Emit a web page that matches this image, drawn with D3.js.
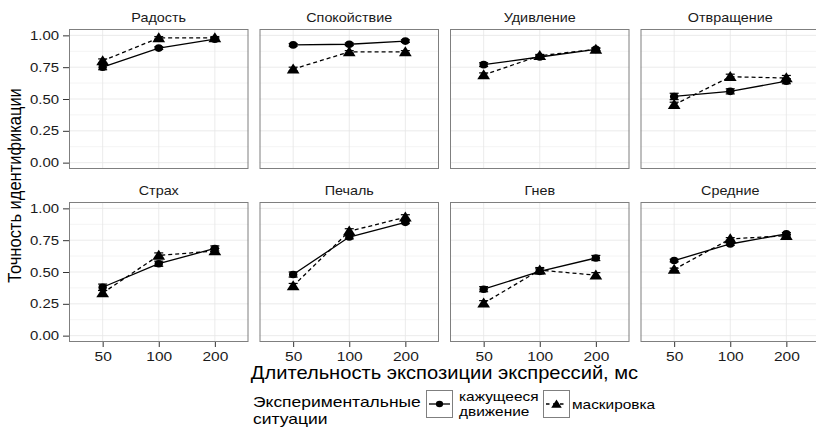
<!DOCTYPE html>
<html>
<head>
<meta charset="utf-8">
<script src="https://cdn.jsdelivr.net/npm/d3@7"></script>
<style>
  body { margin: 0; background: #fff; }
  svg { display: block; font-family: "Liberation Sans", Arial, sans-serif; }
</style>
</head>
<body>
<div id="chart"></div>
<script>
const emotions = ['Радость', 'Спокойствие', 'Удивление', 'Отвращение', 'Страх', 'Печаль', 'Гнев', 'Средние'];
const durations = [50, 100, 200];
const yTicks = [0, 0.25, 0.5, 0.75, 1];

// кажущееся движение (сплошная линия, круги)
const motion = [
  [0.75, 0.90, 0.97],
  [0.925, 0.93, 0.955],
  [0.77, 0.83, 0.89],
  [0.52, 0.56, 0.64],
  [0.38, 0.565, 0.685],
  [0.48, 0.775, 0.89],
  [0.365, 0.505, 0.61],
  [0.59, 0.72, 0.80]
];
const motionErr = [
  [0.02, 0.01, 0.01],
  [0.01, 0.01, 0.01],
  [0.015, 0.01, 0.01],
  [0.025, 0.02, 0.02],
  [0.025, 0.02, 0.02],
  [0.02, 0.015, 0.01],
  [0.02, 0.02, 0.02],
  [0.01, 0.01, 0.01]
];
// маскировка (пунктир, треугольники)
const masking = [
  [0.80, 0.98, 0.98],
  [0.735, 0.87, 0.87],
  [0.69, 0.84, 0.89],
  [0.455, 0.675, 0.665],
  [0.335, 0.63, 0.665],
  [0.39, 0.82, 0.93],
  [0.255, 0.515, 0.475],
  [0.52, 0.76, 0.785]
];
const maskingErr = [
  [0.015, 0.01, 0.01],
  [0.015, 0.01, 0.01],
  [0.015, 0.01, 0.01],
  [0.02, 0.02, 0.02],
  [0.02, 0.02, 0.02],
  [0.02, 0.02, 0.02],
  [0.02, 0.02, 0.02],
  [0.01, 0.01, 0.01]
];

const width = 816, height = 427;
const panelW = 179.5, panelH = 140;
const left0 = 69, stepX = 190.5;
const rowTops = [29, 202];
const sx = 1.15; // картинка слегка растянута по горизонтали

const svg = d3.select('#chart').append('svg')
  .attr('width', width)
  .attr('height', height);

// текст с горизонтальным растяжением
function label(parent, tx, ty, str, size, anchor) {
  return parent.append('text')
    .attr('transform', `translate(${tx},${ty}) scale(${sx},1)`)
    .attr('text-anchor', anchor || 'start')
    .style('font-size', size + 'px')
    .style('fill', '#000')
    .text(str);
}

const x = d3.scalePoint().domain(durations).range([0, panelW]).padding(0.6);
const y = d3.scaleLinear().domain([-0.05, 1.05]).range([panelH, 0]);
const minorTicks = [0.125, 0.375, 0.625, 0.875];

const tri = d3.symbol().type(d3.symbolTriangle).size(58);

emotions.forEach((name, i) => {
  const col = i % 4, row = Math.floor(i / 4);
  const g = svg.append('g')
    .attr('transform', `translate(${left0 + col * stepX},${rowTops[row]})`);

  // grid
  g.selectAll('.minor').data(minorTicks).enter().append('line')
    .attr('x1', 0).attr('x2', panelW)
    .attr('y1', d => y(d)).attr('y2', d => y(d))
    .attr('stroke', '#f4f4f4').attr('stroke-width', 1);
  g.selectAll('.major').data(yTicks).enter().append('line')
    .attr('x1', 0).attr('x2', panelW)
    .attr('y1', d => y(d)).attr('y2', d => y(d))
    .attr('stroke', '#e6e6e6').attr('stroke-width', 0.8);
  g.selectAll('.vmajor').data(durations).enter().append('line')
    .attr('x1', d => x(d)).attr('x2', d => x(d))
    .attr('y1', 0).attr('y2', panelH)
    .attr('stroke', '#e6e6e6').attr('stroke-width', 0.8);

  const ptsM = durations.map((d, j) => ({ d, v: motion[i][j], e: motionErr[i][j] }));
  const ptsK = durations.map((d, j) => ({ d, v: masking[i][j], e: maskingErr[i][j] }));

  const line = d3.line().x(p => x(p.d)).y(p => y(p.v));

  [ptsK, ptsM].forEach(pts => {
    const eb = g.selectAll(null).data(pts).enter().append('g');
    eb.append('line')
      .attr('x1', p => x(p.d)).attr('x2', p => x(p.d))
      .attr('y1', p => y(p.v - p.e)).attr('y2', p => y(p.v + p.e))
      .attr('stroke', '#000').attr('stroke-width', 1.2);
    [-1, 1].forEach(s => {
      eb.append('line')
        .attr('x1', p => x(p.d) - 4.5).attr('x2', p => x(p.d) + 4.5)
        .attr('y1', p => y(p.v + s * p.e)).attr('y2', p => y(p.v + s * p.e))
        .attr('stroke', '#000').attr('stroke-width', 1.2);
    });
  });

  g.append('path').datum(ptsK).attr('d', line)
    .attr('fill', 'none').attr('stroke', '#000').attr('stroke-width', 1.3)
    .attr('stroke-dasharray', '4,3');
  g.append('path').datum(ptsM).attr('d', line)
    .attr('fill', 'none').attr('stroke', '#000').attr('stroke-width', 1.3);

  g.selectAll('.tri').data(ptsK).enter().append('path')
    .attr('d', tri)
    .attr('transform', p => `translate(${x(p.d)},${y(p.v) + 1}) scale(1.1,1)`)
    .attr('fill', '#000');
  g.selectAll('.dot').data(ptsM).enter().append('ellipse')
    .attr('cx', p => x(p.d)).attr('cy', p => y(p.v))
    .attr('rx', 4.2).attr('ry', 3.8).attr('fill', '#000');

  g.append('rect')
    .attr('x', 0.5).attr('y', 0.5)
    .attr('width', panelW - 1).attr('height', panelH - 1)
    .attr('fill', 'none').attr('stroke', '#7f7f7f').attr('stroke-width', 1);

  label(g, panelW / 2, -7, name, 12.5, 'middle').style('fill', '#1a1a1a');

  if (col === 0) {
    const ya = g.append('g').call(d3.axisLeft(y).tickValues(yTicks).tickFormat(d3.format('.2f')).tickSize(6).tickPadding(4));
    ya.select('.domain').remove();
    ya.selectAll('line').attr('stroke', '#333');
    ya.selectAll('text')
      .attr('x', 0)
      .attr('transform', `translate(-10,0) scale(${sx},1)`)
      .style('font-size', '13px').style('fill', '#1a1a1a')
      .style('font-family', '"Liberation Sans", Arial, sans-serif');
  }
  if (row === 1) {
    const xa = g.append('g').attr('transform', `translate(0,${panelH})`)
      .call(d3.axisBottom(x).tickSize(5).tickPadding(4));
    xa.select('.domain').remove();
    xa.selectAll('line').attr('stroke', '#333');
    xa.selectAll('text')
      .attr('transform', `scale(${sx},1)`)
      .style('font-size', '13.5px').style('fill', '#1a1a1a')
      .style('font-family', '"Liberation Sans", Arial, sans-serif');
  }
});

// axis titles
svg.append('text')
  .attr('transform', `translate(21,${(rowTops[0] + rowTops[1] + panelH) / 2}) rotate(-90) scale(1,${sx})`)
  .attr('text-anchor', 'middle')
  .style('font-size', '16.5px').style('fill', '#000')
  .text('Точность идентификации');

label(svg, left0 + (3 * stepX + panelW) / 2, 379, 'Длительность экспозиции экспрессий, мс', 17.5, 'middle');

// legend
const lg = svg.append('g');
label(lg, 253, 407, 'Экспериментальные', 15.2);
label(lg, 253, 424, 'ситуации', 15.2);

const keyW = 26, keyH = 27;
const keyY = 390;
const key1 = 426, key2 = 543;

function key(xPos, dashed) {
  const k = lg.append('g').attr('transform', `translate(${xPos},${keyY})`);
  k.append('rect').attr('x', 0.5).attr('y', 0.5).attr('width', keyW).attr('height', keyH)
    .attr('fill', '#fff').attr('stroke', '#7f7f7f');
  k.append('line').attr('x1', 3).attr('x2', keyW - 2).attr('y1', keyH / 2 + 0.5).attr('y2', keyH / 2 + 0.5)
    .attr('stroke', '#000').attr('stroke-width', 1.3)
    .attr('stroke-dasharray', dashed ? '3.5,3.5' : null);
  if (dashed) {
    k.append('path').attr('d', d3.symbol().type(d3.symbolTriangle).size(40))
      .attr('transform', `translate(${keyW / 2 + 0.5},${keyH / 2 + 1.5}) scale(1.1,1)`).attr('fill', '#000');
  } else {
    k.append('ellipse').attr('cx', keyW / 2 + 0.5).attr('cy', keyH / 2 + 0.5)
      .attr('rx', 3.6).attr('ry', 3.2).attr('fill', '#000');
  }
}
key(key1, false);
key(key2, true);

label(lg, 459, 401, 'кажущееся', 13.4);
label(lg, 459, 416, 'движение', 13.4);
label(lg, 572, 409, 'маскировка', 13.4);
</script>
</body>
</html>
